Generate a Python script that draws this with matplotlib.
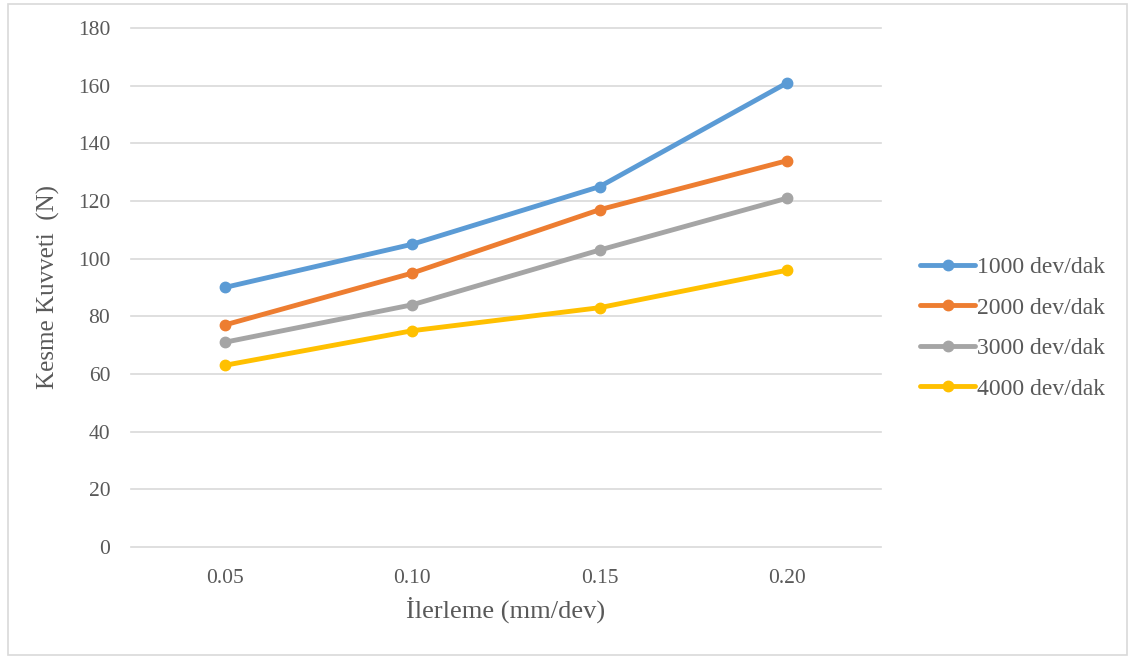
import matplotlib.pyplot as plt
from matplotlib.patches import Rectangle

# data
feeds = ['0.05', '0.10', '0.15', '0.20']
speeds = ['1000 dev/dak', '2000 dev/dak', '3000 dev/dak', '4000 dev/dak']
force_1000 = [90, 105, 125, 161]
force_2000 = [77, 95, 117, 134]
force_3000 = [71, 84, 103, 121]
force_4000 = [63, 75, 83, 96]
colors = ['#5B9BD5', '#ED7D31', '#A5A5A5', '#FFC000']

plt.rcParams['font.family'] = ['Liberation Serif', 'DejaVu Serif']
text_col = '#595959'

fig = plt.figure(figsize=(11.33, 6.59), dpi=100, facecolor='white')
# light frame around the chart like the Excel chart area
fig.patches.append(Rectangle((0.007, 0.006), 0.988, 0.988, transform=fig.transFigure,
                             fill=False, edgecolor='#D9D9D9', linewidth=1.2))

ax = fig.add_axes([0.1156, 0.170, 0.662, 0.7875])
x = range(len(feeds))
for vals, lab, c in zip([force_1000, force_2000, force_3000, force_4000], speeds, colors):
    ax.plot(x, vals, color=c, linewidth=3.5, marker='o', markersize=7.5,
            solid_capstyle='round', label=lab)

ax.set_xlim(-0.5, len(feeds) - 0.5)
ax.set_ylim(0, 180)
ax.set_yticks(range(0, 181, 20))
ax.set_xticks(list(x))
ax.set_xticklabels(feeds)
ax.yaxis.grid(True, color='#D9D9D9', linewidth=1.2)
for gl in ax.get_ygridlines():
    gl.set_clip_on(False)
ax.set_axisbelow(True)
for s in ax.spines.values():
    s.set_visible(False)
ax.tick_params(length=0, labelsize=15.5, colors=text_col)
ax.tick_params(axis='y', pad=15)
ax.tick_params(axis='x', pad=16)

ax.set_ylabel('Kesme Kuvveti  (N)', fontsize=18, color=text_col, labelpad=13)
ax.set_xlabel('İlerleme (mm/dev)', fontsize=19, color=text_col, labelpad=6)

leg = ax.legend(loc='center left', bbox_to_anchor=(0.812, 0.502), bbox_transform=fig.transFigure,
                frameon=False, borderaxespad=0, borderpad=0,
                fontsize=17, handlelength=2.35, handletextpad=0.05, labelspacing=0.8,
                labelcolor=text_col)

plt.savefig('out.png', dpi=100, facecolor='white')
